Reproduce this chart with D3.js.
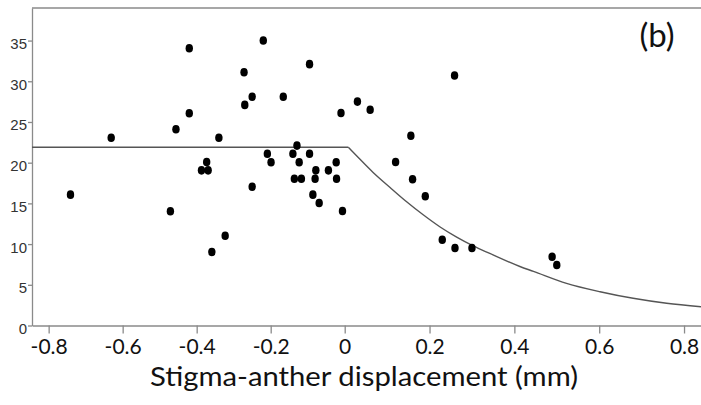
<!DOCTYPE html>
<html>
<head>
<meta charset="utf-8">
<script src="https://cdn.jsdelivr.net/npm/d3@7"></script>
<style>
  body { margin: 0; background: #fff; }
  svg { display: block; }
</style>
</head>
<body>
<script>
var w = 701,
    h = 405;

// Points
var displacement = [-0.220, -0.272, -0.250, -0.270, -0.166, -0.095, 0.259, -0.010,
                    0.030, 0.060, 0.156, -0.129, -0.209, -0.199, -0.140, -0.123,
                    -0.095, -0.078, -0.080, -0.136, -0.117, -0.044, -0.023, -0.022,
                    -0.086, -0.069, -0.006, -0.250, 0.120, 0.160, 0.190, -0.420,
                    -0.631, -0.456, -0.420, -0.340, -0.373, -0.387, -0.369, -0.741,
                    -0.471, -0.359, -0.323, 0.230, 0.260, 0.300, 0.489, 0.500];
var seeds = [35.0, 31.1, 28.1, 27.1, 28.1, 32.1, 30.7, 26.1,
             27.5, 26.5, 23.3, 22.1, 21.1, 20.05, 21.1, 20.05,
             21.1, 19.06, 18.03, 18.03, 18.03, 19.06, 20.05, 18.03,
             16.07, 15.05, 14.06, 17.05, 20.08, 17.96, 15.87, 34.05,
             23.07, 24.1, 26.07, 23.07, 20.08, 19.06, 19.06, 16.07,
             14.03, 9.03, 11.03, 10.54, 9.52, 9.52, 8.45, 7.43];

// Fitted line: flat part, then the decay
var plateauX = [-0.845, 0.0085];
var plateauY = [21.9, 21.9];
var decayX = [0.0085, 0.028, 0.067, 0.107, 0.146, 0.185, 0.225, 0.264,
              0.303, 0.342, 0.413, 0.445, 0.523, 0.602, 0.680, 0.759, 0.840];
var decayY = [21.9, 20.85, 18.8, 16.95, 15.2, 13.6, 12.1, 10.85,
              9.77, 8.85, 7.25, 6.65, 5.18, 4.15, 3.34, 2.73, 2.30];

var xTicks = [-0.8, -0.6, -0.4, -0.2, 0, 0.2, 0.4, 0.6, 0.8];
var xTickLabels = ['-0.8', '-0.6', '-0.4', '-0.2', '0', '0.2', '0.4', '0.6', '0.8'];
var yTicks = [0, 5, 10, 15, 20, 25, 30, 35];

var svg = d3.select('body')
            .append('svg')
            .attr('width', w)
            .attr('height', h);

// the x axis is spaced a little wider right of zero in the original
var x = d3.scaleLinear()
          .domain([-0.845, 0, 0.84])
          .range([32, 344.7, 701]);

var y = d3.scaleLinear()
          .domain([0, 39])
          .range([325.5, 8]);

// top border
svg.append('line')
   .attr('x1', x(-0.845))
   .attr('x2', w)
   .attr('y1', y(39))
   .attr('y2', y(39))
   .style('stroke', '#8a8a8a')
   .style('stroke-width', 1.5);

var xAxis = svg.append('g')
               .attr('transform', 'translate(0,' + y(0) + ')')
               .call(d3.axisBottom(x)
                       .tickValues(xTicks)
                       .tickSize(8)
                       .tickSizeOuter(0)
                       .tickFormat(function(d, i) { return xTickLabels[i]; }));

xAxis.selectAll('path, line')
     .style('stroke', '#8a8a8a')
     .style('stroke-width', 1.3);

xAxis.selectAll('text')
     .attr('y', 28.5)
     .attr('dy', 0)
     .style('font-family', 'Lato, sans-serif')
     .style('font-size', '21px')
     .style('fill', '#111');

var yAxis = svg.append('g')
               .attr('transform', 'translate(' + x(-0.845) + ',0)')
               .call(d3.axisLeft(y)
                       .tickValues(yTicks)
                       .tickSize(4)
                       .tickSizeOuter(0));

yAxis.selectAll('path, line')
     .style('stroke', '#8a8a8a')
     .style('stroke-width', 1.3);

yAxis.selectAll('text')
     .attr('x', -5)
     .attr('dy', 8)
     .style('font-family', '"Liberation Sans Narrow", "Arial Narrow", "Liberation Sans", sans-serif')
     .style('font-size', '15px')
     .style('fill', '#333');

var plateau = d3.line()
                .x(function(d, i) { return x(plateauX[i]); })
                .y(function(d, i) { return y(plateauY[i]); });

var decay = d3.line()
              .x(function(d, i) { return x(decayX[i]); })
              .y(function(d, i) { return y(decayY[i]); })
              .curve(d3.curveMonotoneX);

svg.append('path')
   .datum(plateauX)
   .attr('d', plateau)
   .style('fill', 'none')
   .style('stroke', '#555')
   .style('stroke-width', 1.4);

svg.append('path')
   .datum(decayX)
   .attr('d', decay)
   .style('fill', 'none')
   .style('stroke', '#555')
   .style('stroke-width', 1.4);

svg.selectAll('ellipse')
   .data(displacement)
   .enter()
   .append('ellipse')
   .attr('cx', function(d) { return x(d); })
   .attr('cy', function(d, i) { return y(seeds[i]); })
   .attr('rx', 3.7)
   .attr('ry', 4.3)
   .style('fill', '#000');

svg.append('text')
   .attr('x', 364)
   .attr('y', 386)
   .attr('text-anchor', 'middle')
   .attr('textLength', 428)
   .attr('lengthAdjust', 'spacingAndGlyphs')
   .style('font-family', 'Lato, sans-serif')
   .style('font-size', '26.5px')
   .style('fill', '#111')
   .text('Stigma-anther displacement (mm)');

svg.append('text')
   .attr('x', 657)
   .attr('y', 47)
   .attr('text-anchor', 'middle')
   .style('font-family', 'Lato, sans-serif')
   .style('font-size', '33px')
   .style('fill', '#111')
   .text('(b)');
</script>
</body>
</html>
